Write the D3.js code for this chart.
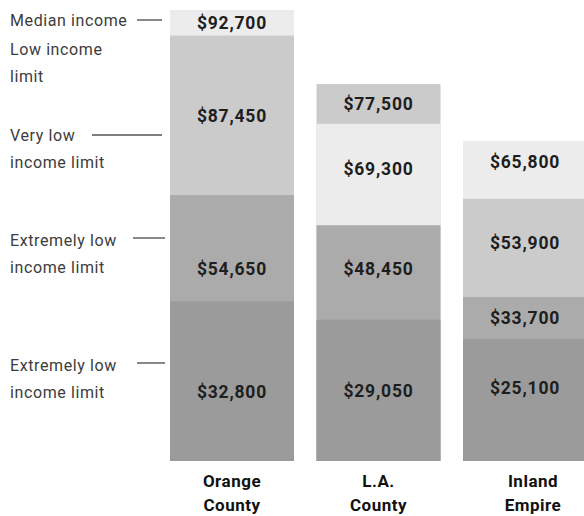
<!DOCTYPE html>
<html>
<head>
<meta charset="utf-8">
<script src="https://cdn.jsdelivr.net/npm/d3@7/dist/d3.min.js"></script>
<style>
  html, body { margin: 0; padding: 0; background: #fff; }
  svg { display: block; }
</style>
</head>
<body>
<svg id="chart" width="584" height="516"></svg>
<script>
// Income limits by region (dollars)
const categories   = ["Orange County", "L.A. County", "Inland Empire"];
const categoryLines = [["Orange", "County"], ["L.A.", "County"], ["Inland", "Empire"]];
const medianIncome   = [92700, 69300, 65800];
const lowLimit       = [87450, 77500, 53900];
const veryLowLimit   = [54650, 48450, 33700];
const extremelyLow   = [32800, 29050, 25100];

// Left-hand key labels (text as printed)
const keyLabels = [
  ["Median income"],
  ["Low income", "limit"],
  ["Very low", "income limit"],
  ["Extremely low", "income limit"],
  ["Extremely low", "income limit"]
];

const seriesDefs = [
  { key: "median",   values: medianIncome, color: "#ececec" },
  { key: "low",      values: lowLimit,     color: "#cbcbcb" },
  { key: "veryLow",  values: veryLowLimit, color: "#ababab" },
  { key: "extreme",  values: extremelyLow, color: "#9b9b9b" }
];

const svg = d3.select("#chart");
const baseY = 461;

const y = d3.scaleLinear().domain([0, 92700]).range([baseY, 10]);
const x = d3.scaleBand().domain(categories).range([170, 587]).paddingInner(0.1536).paddingOuter(0);

// Label nudges (px) for readability inside tall segments
const nudge = {
  "Orange County|veryLow": 20, "Orange County|extreme": 10,
  "L.A. County|median": -6, "L.A. County|veryLow": -4,
  "Inland Empire|median": -8, "Inland Empire|low": -5, "Inland Empire|extreme": -12
};

categories.forEach((cat, i) => {
  // Overlapping cumulative bars: largest drawn first
  const segs = seriesDefs
    .map(s => ({ key: s.key, value: s.values[i], color: s.color }))
    .sort((a, b) => b.value - a.value);

  const g = svg.append("g");
  g.selectAll("rect").data(segs).enter().append("rect")
    .attr("x", x(cat))
    .attr("width", x.bandwidth())
    .attr("y", d => y(d.value))
    .attr("height", d => baseY - y(d.value))
    .attr("fill", d => d.color);

  // Value labels centred in each visible band
  segs.forEach((d, j) => {
    const bottom = j + 1 < segs.length ? y(segs[j + 1].value) : baseY;
    const mid = (y(d.value) + bottom) / 2 + (nudge[cat + "|" + d.key] || 0);
    g.append("text")
      .attr("x", x(cat) + x.bandwidth() / 2)
      .attr("y", mid)
      .attr("dy", "0.36em")
      .attr("text-anchor", "middle")
      .attr("font-family", "Roboto, 'Open Sans', sans-serif")
      .attr("font-weight", 700)
      .attr("font-size", 17.5)
      .attr("letter-spacing", 0.8)
      .attr("fill", "#1e1e1e")
      .text(d3.format("$,")(d.value));
  });

  // Category name under the bar
  const t = svg.append("text")
    .attr("text-anchor", "middle")
    .attr("font-family", "Roboto, 'Open Sans', sans-serif")
    .attr("font-weight", 700)
    .attr("font-size", 17)
    .attr("letter-spacing", 0.5)
    .attr("fill", "#111");
  categoryLines[i].forEach((line, k) => {
    t.append("tspan")
      .attr("x", x(cat) + x.bandwidth() / 2 + (i === 2 ? 8 : 0))
      .attr("y", 487 + k * 24)
      .text(line);
  });
});

// Key on the left with leader lines
const keyLayout = [
  { y: 26, line: [137, 162, 20] },
  { y: 55, line: null },
  { y: 141, line: [92, 162, 135] },
  { y: 246, line: [133, 165, 238] },
  { y: 371, line: [137, 165, 363] }
];
keyLabels.forEach((lines, i) => {
  const lay = keyLayout[i];
  const t = svg.append("text")
    .attr("font-family", "Roboto, 'Open Sans', sans-serif")
    .attr("font-size", 16)
    .attr("letter-spacing", 0.6)
    .attr("fill", "#3c3c3c");
  lines.forEach((line, k) => {
    t.append("tspan").attr("x", 10).attr("y", lay.y + k * 27).text(line);
  });
  if (lay.line) {
    svg.append("line")
      .attr("x1", lay.line[0]).attr("x2", lay.line[1])
      .attr("y1", lay.line[2]).attr("y2", lay.line[2])
      .attr("stroke", "#555").attr("stroke-width", 1.4);
  }
});
</script>
</body>
</html>
